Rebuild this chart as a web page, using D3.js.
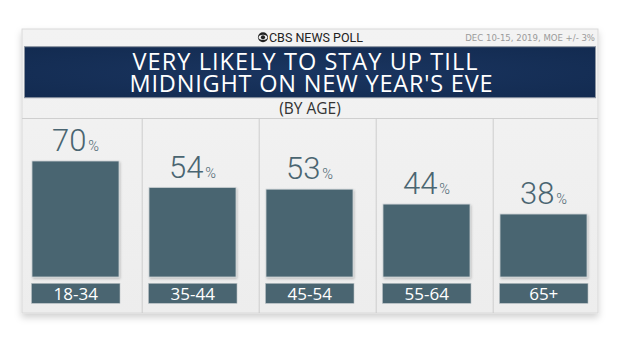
<!DOCTYPE html>
<html>
<head>
<meta charset="utf-8">
<script src="https://cdn.jsdelivr.net/npm/d3@7"></script>
<style>
  html, body { margin: 0; padding: 0; background: #fff; }
  svg { display: block; }
</style>
</head>
<body>
<svg id="chart" width="620" height="349"></svg>
<script>
// Poll results: share "very likely" to stay up till midnight, by age group
const ageGroups = ["18-34", "35-44", "45-54", "55-64", "65+"];
const veryLikely = [70, 54, 53, 44, 38];
const titleLines = ["VERY LIKELY TO STAY UP TILL", "MIDNIGHT ON NEW YEAR'S EVE"];
const subtitle = "(BY AGE)";
const brand = "CBS NEWS POLL";
const pollNote = "DEC 10-15, 2019, MOE +/- 3%";

const W = 620, H = 349;
const card = { x: 22, y: 29, w: 576, h: 284 };
const panelTop = 118.5;
const barBase = 277;

const svg = d3.select("#chart");
const defs = svg.append("defs");

// soft drop shadow under the card
const sh = defs.append("filter").attr("id", "cardShadow")
  .attr("x", "-5%").attr("y", "-5%").attr("width", "110%").attr("height", "120%");
sh.append("feDropShadow").attr("dx", 0).attr("dy", 4).attr("stdDeviation", 3.5)
  .attr("flood-color", "#000").attr("flood-opacity", 0.18);

const barSh = defs.append("filter").attr("id", "barShadow")
  .attr("x", "-10%").attr("y", "-10%").attr("width", "130%").attr("height", "130%");
barSh.append("feDropShadow").attr("dx", 1).attr("dy", 1.5).attr("stdDeviation", 1.2)
  .attr("flood-color", "#000").attr("flood-opacity", 0.22);

const cardGrad = defs.append("linearGradient").attr("id", "cardGrad")
  .attr("x1", 0).attr("y1", 0).attr("x2", 0).attr("y2", 1);
cardGrad.append("stop").attr("offset", "0%").attr("stop-color", "#f3f3f3");
cardGrad.append("stop").attr("offset", "100%").attr("stop-color", "#ededed");

const bannerGrad = defs.append("radialGradient").attr("id", "bannerGrad")
  .attr("cx", "50%").attr("cy", "50%").attr("r", "75%");
bannerGrad.append("stop").attr("offset", "0%").attr("stop-color", "#1a3560");
bannerGrad.append("stop").attr("offset", "100%").attr("stop-color", "#122a4f");

svg.append("rect").attr("width", W).attr("height", H).attr("fill", "#fff");

// card
svg.append("rect")
  .attr("x", card.x).attr("y", card.y).attr("width", card.w).attr("height", card.h)
  .attr("fill", "url(#cardGrad)").attr("stroke", "#d9d9d9").attr("stroke-width", 1)
  .attr("filter", "url(#cardShadow)");

// header: logo + brand
const headerBaseline = 41.8;
const brandText = svg.append("text")
  .attr("x", 316).attr("y", headerBaseline)
  .attr("text-anchor", "middle")
  .attr("font-family", "Roboto, 'Noto Sans', sans-serif")
  .attr("font-size", 12.5).attr("fill", "#222")
  .text(brand);
const bb = brandText.node().getBBox();
const eye = svg.append("g").attr("transform", `translate(${bb.x - 6},${headerBaseline - 4.5})`);
eye.append("circle").attr("r", 5).attr("fill", "#222");
eye.append("ellipse").attr("rx", 4.3).attr("ry", 2.6).attr("fill", "#f2f2f2");
eye.append("circle").attr("r", 2.1).attr("fill", "#222");

svg.append("text")
  .attr("x", 595).attr("y", 41)
  .attr("text-anchor", "end")
  .attr("font-family", "'Liberation Sans Narrow', 'DejaVu Sans Condensed', sans-serif")
  .attr("font-stretch", "condensed")
  .attr("font-size", 9.5).attr("fill", "#9a9a9a")
  .text(pollNote);

// title banner
svg.append("rect")
  .attr("x", 24.5).attr("y", 46.7).attr("width", 571).attr("height", 51)
  .attr("fill", "url(#bannerGrad)").attr("stroke", "#8a93a0").attr("stroke-width", 1);

// two-line headline, each line spaced out to its set width
const titleWidths = [345, 363];
const titleCenters = [305, 311];
svg.append("text")
  .attr("font-family", "'Open Sans', Lato, sans-serif")
  .attr("font-weight", 400)
  .attr("font-size", 23.5).attr("fill", "#fff")
  .attr("text-anchor", "middle")
  .selectAll("tspan").data(titleLines).join("tspan")
  .attr("x", (d, i) => titleCenters[i])
  .attr("y", (d, i) => 70.3 + i * 21.6)
  .attr("textLength", (d, i) => titleWidths[i])
  .attr("lengthAdjust", "spacing")
  .text(d => d);

svg.append("text")
  .attr("x", 310).attr("y", 114.2)
  .attr("text-anchor", "middle")
  .attr("font-family", "'Open Sans', Lato, sans-serif")
  .attr("font-size", 15.5).attr("fill", "#333")
  .text(subtitle);

// bar panel
svg.append("line")
  .attr("x1", card.x).attr("x2", card.x + card.w)
  .attr("y1", panelTop).attr("y2", panelTop)
  .attr("stroke", "#cfcfcf").attr("stroke-width", 1);

const x = d3.scaleBand()
  .domain(ageGroups)
  .range([17, 602])
  .paddingInner(30 / 117)
  .paddingOuter(15 / 117);

const y = d3.scaleLinear()
  .domain([0, 100])
  .range([barBase, barBase - 165.7]);

// column dividers
svg.append("g").selectAll("line").data(ageGroups.slice(1)).join("line")
  .attr("x1", d => x(d) - 6.8).attr("x2", d => x(d) - 6.8)
  .attr("y1", panelTop).attr("y2", card.y + card.h)
  .attr("stroke", "#cdcdcd").attr("stroke-width", 1);

const data = ageGroups.map((g, i) => ({ group: g, value: veryLikely[i] }));

// bars
svg.append("g").selectAll("rect").data(data).join("rect")
  .attr("x", d => x(d.group)).attr("y", d => y(d.value))
  .attr("width", x.bandwidth()).attr("height", d => y(0) - y(d.value))
  .attr("fill", "#4a6571").attr("stroke", "#c9cfd2").attr("stroke-width", 0.8)
  .attr("filter", "url(#barShadow)");

// category label boxes
const cats = svg.append("g").selectAll("g").data(data).join("g")
  .attr("transform", d => `translate(${x(d.group) - 0.5},283.3)`);
cats.append("rect")
  .attr("width", x.bandwidth() + 1.5).attr("height", 20)
  .attr("fill", "#4a6571").attr("stroke", "#b8c0c4").attr("stroke-width", 0.6);
cats.append("text")
  .attr("x", (x.bandwidth() + 1.5) / 2).attr("y", 16.5)
  .attr("text-anchor", "middle")
  .attr("font-family", "'Open Sans', Lato, sans-serif")
  .attr("font-size", 17).attr("fill", "#fff")
  .text(d => d.group);

// value labels
const vals = svg.append("g").selectAll("text").data(data).join("text")
  .attr("x", d => x(d.group) + x.bandwidth() / 2)
  .attr("y", d => y(d.value) - 10)
  .attr("text-anchor", "middle")
  .attr("font-family", "Roboto, 'Open Sans', sans-serif")
  .attr("font-weight", 300)
  .attr("fill", "#4a6571");
vals.append("tspan").attr("font-size", 31).text(d => d.value);
vals.append("tspan").attr("font-size", 14.5).attr("dx", 2).text("%");
</script>
</body>
</html>
